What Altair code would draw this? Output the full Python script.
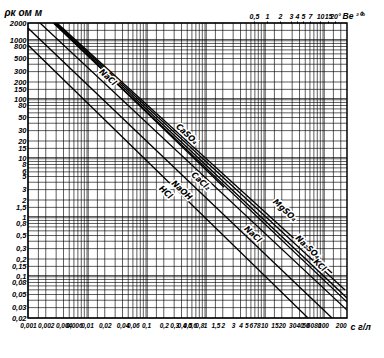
import json
import altair as alt
import pandas as pd

# ---- data ----
salt_names = ["HCl", "NaOH", "CaCl2", "NaCl", "KCl", "Na2SO4", "MgSO4", "CaSO4"]
c_start = [0.001, 0.001, 0.0016, 0.0027, 0.00287, 0.00298, 0.0031, 0.00276]
rho_start = [848, 1644, 2000, 2000, 2000, 2000, 2000, 2000]
c_end = [55.7, 142, 255, 255, 255, 236, 142, 2.1]
rho_end = [0.02, 0.02, 0.0273, 0.0373, 0.0437, 0.0596, 0.116, 3.3]

label_text = ["NaCl", "CaSO₄", "CaCl₂", "NaOH", "HCl", "MgSO₄", "Na₂SO₄", "KCl", "NaCl"]
label_c = [0.0227, 0.495, 0.855, 0.407, 0.218, 22.7, 55.7, 89, 6.52]
label_rho = [243, 26.3, 4.2, 2.95, 2.73, 1.35, 0.32, 0.158, 0.53]

x_ticks = [0.001, 0.002, 0.004, 0.006, 0.01, 0.02, 0.04, 0.06, 0.1, 0.2, 0.3, 0.4,
           0.5, 0.6, 0.8, 1, 1.5, 2, 3, 4, 5, 6, 7, 8, 10, 15, 20, 30, 40, 50, 60,
           80, 100, 200]
y_ticks = [2000, 1000, 800, 500, 300, 200, 150, 100, 80, 50, 30, 20, 15, 10, 8, 6, 5,
           3, 2, 1.5, 1, 0.8, 0.5, 0.3, 0.2, 0.15, 0.1, 0.08, 0.05, 0.03, 0.02]

baume_labels = ["0,5", "1", "2", "3", "4", "5", "7", "10", "15", "20°"]
baume_c = [6.76, 11.2, 18.7, 28.7, 36.2, 45.8, 60.3, 89, 121.6, 159.6]

grid_mantissa = [1, 1.5, 2, 3, 4, 5, 6, 7, 8, 9]
x_decades = [0.001, 0.01, 0.1, 1, 10, 100]
y_decades = [0.01, 0.1, 1, 10, 100, 1000]

X_MIN, X_MAX = 0.001, 255
Y_MIN, Y_MAX = 0.02, 2000

# ---- tables ----
rows = []
for n, c0, r0, c1, r1 in zip(salt_names, c_start, rho_start, c_end, rho_end):
    rows.append({"salt": n, "c": c0, "rho": r0, "o": 0})
    rows.append({"salt": n, "c": c1, "rho": r1, "o": 1})
df_lines = pd.DataFrame(rows)

df_labels = pd.DataFrame({"t": label_text, "c": label_c, "rho": label_rho})

gx = sorted({round(d * m, 6) for d in x_decades for m in grid_mantissa
             if X_MIN <= d * m <= X_MAX} | {round(d * 1.05, 6) for d in x_decades[1:]})
gy = sorted({round(d * m, 6) for d in y_decades for m in grid_mantissa
             if Y_MIN <= d * m <= Y_MAX} | {round(d * 1.05, 6) for d in y_decades[1:]})
df_gx = pd.DataFrame({"c": gx})
df_gy = pd.DataFrame({"rho": gy})
df_baume = pd.DataFrame({"c": baume_c})

FONT = "Liberation Sans Narrow, Liberation Sans, Arial, sans-serif"
LFONT = "DejaVu Sans Condensed, DejaVu Sans, sans-serif"
xscale = alt.Scale(type="log", domain=[X_MIN, X_MAX], nice=False)
yscale = alt.Scale(type="log", domain=[Y_MIN, Y_MAX], nice=False)
comma = "replace(toString(datum.value), '.', ',')"

grid_x = alt.Chart(df_gx).mark_rule(color="black", strokeWidth=0.8, opacity=0.8).encode(
    x=alt.X("c:Q", scale=xscale, axis=None))
grid_y = alt.Chart(df_gy).mark_rule(color="black", strokeWidth=0.8, opacity=0.8).encode(
    y=alt.Y("rho:Q", scale=yscale, axis=alt.Axis(
        values=y_ticks, labelExpr=comma, ticks=False, domain=False, grid=False,
        labelPadding=2, labelFontSize=7.5, labelOverlap=False, labelFlush=False,
        title="ρк ом м", titleAngle=0, titleX=-24, titleY=-8, titleAlign="left",
        titleBaseline="alphabetic", titleFontSize=10)))

lines = alt.Chart(df_lines).mark_line(color="black", strokeWidth=1.3, clip=True).encode(
    x=alt.X("c:Q", scale=xscale, axis=alt.Axis(
        values=x_ticks, labelExpr=comma, ticks=False, domain=False, grid=False,
        labelPadding=4, labelFontSize=6.5, labelOverlap=False, labelFlush=False,
        title="c г/л", titleX=322, titleY=11, titleAlign="left",
        titleBaseline="alphabetic", titleFontSize=9)),
    y=alt.Y("rho:Q", scale=yscale, axis=None),
    detail="salt:N",
    order="o:Q",
)

halo = alt.Chart(df_labels).mark_text(
    angle=43, font=LFONT, fontSize=8.5, fontStyle="italic", fontWeight="bold",
    color="white", stroke="white", strokeWidth=3).encode(
    x=alt.X("c:Q", scale=xscale, axis=None),
    y=alt.Y("rho:Q", scale=yscale, axis=None), text="t:N")
texts = alt.Chart(df_labels).mark_text(
    angle=43, font=LFONT, fontSize=8.5, fontStyle="italic", fontWeight="bold",
    color="black").encode(
    x=alt.X("c:Q", scale=xscale, axis=None),
    y=alt.Y("rho:Q", scale=yscale, axis=None), text="t:N")

top_expr = "{}[indexof({}, datum.value)]".format(json.dumps(baume_labels), json.dumps(baume_c))
top_axis = alt.Chart(df_baume).mark_point(opacity=0).encode(
    x=alt.X("c:Q", scale=xscale, axis=alt.Axis(
        orient="top", values=baume_c, labelExpr=top_expr, ticks=True, tickSize=2,
        tickColor="black", domain=False, grid=False, labelPadding=2, labelFontSize=7,
        labelOverlap=False, labelFlush=False, title="Be  ²⁰°", titleX=314, titleY=-5,
        titleAlign="left", titleBaseline="alphabetic", titleFontSize=8.5)))

chart = alt.layer(grid_x, grid_y, lines, halo, texts, top_axis).resolve_axis(
    x="independent", y="independent").properties(
    width=319, height=295,
    autosize=alt.AutoSizeParams(type="none"),
    padding={"left": 28, "top": 23, "right": 37, "bottom": 40},
    background="white",
).configure_view(stroke="black", strokeWidth=1.5).configure_axis(
    labelFont=FONT, labelFontStyle="italic", labelFontWeight="bold", labelColor="black",
    titleFont=FONT, titleFontStyle="italic", titleFontWeight="bold", titleColor="black",
)

chart.save("out.html", embed_options={"renderer": "svg", "actions": False})
